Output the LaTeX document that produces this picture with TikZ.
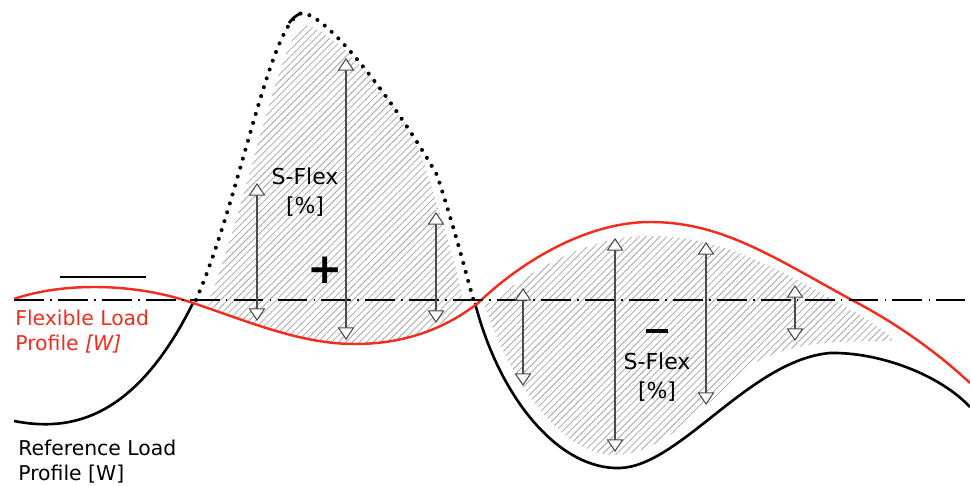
\documentclass[tikz,border=0pt]{standalone}
\usepackage{fontspec}
\setmainfont{DejaVu Sans}
\usetikzlibrary{arrows.meta,patterns.meta}
\definecolor{FlexRed}{RGB}{240,45,30}
\definecolor{HatchGray}{RGB}{165,165,165}
\definecolor{ArrowGray}{RGB}{75,75,75}
\tikzset{
  refline/.style={line width=1.5pt,draw=black},
  flexline/.style={line width=1.4pt,draw=FlexRed},
  dotline/.style={line width=2.3pt,line cap=round,dash pattern=on 0pt off 5.3pt},
  zeroline/.style={line width=0.9pt,dash pattern=on 17pt off 3.5pt on 1pt off 3.5pt},
  hatch/.style={pattern={Lines[angle=45,distance=2.8pt,line width=0.45pt]},pattern color=HatchGray},
  flexarrow/.style={{Triangle[fill=white,length=7.2pt,width=9.5pt]}-{Triangle[fill=white,length=7.2pt,width=9.5pt]},
    line width=0.6pt,draw=ArrowGray},
  sflex/.style={align=center,font=\fontsize{12.5}{16.5}\selectfont,inner sep=0pt},
  proflabel/.style={align=left,anchor=north west,font=\fontsize{11.6}{14}\selectfont,inner sep=0pt}
}

\begin{document}
\begin{tikzpicture}[x=0.02cm,y=-0.02cm]
  \useasboundingbox (0,0) rectangle (970,486);

  % hatched areas
  \fill[hatch] (207,305) .. controls (245,215) and (280,30) .. (305,25)
    .. controls (330,28) and (405,100) .. (428,175)
    .. controls (445,230) and (458,270) .. (464,306)
    .. controls (440,330) and (400,344) .. (355,344)
    .. controls (300,344) and (250,322) .. (207,305) -- cycle;
  \fill[hatch] (485,306) .. controls (535,268) and (590,235) .. (650,236)
    .. controls (720,236) and (770,265) .. (840,303)
    .. controls (865,318) and (885,330) .. (895,341)
    .. controls (850,341) and (800,340) .. (760,360)
    .. controls (720,385) and (670,455) .. (615,455)
    .. controls (560,455) and (510,380) .. (485,306) -- cycle;

  % profiles
  \draw[refline] (14,421) .. controls (70,432) and (135,420) .. (193,303);
  \draw[refline] (475,303) .. controls (500,400) and (560,470) .. (620,468)
    .. controls (680,466) and (750,360) .. (830,353)
    .. controls (880,352) and (940,375) .. (970,407);
  \draw[dotline] (196,300) .. controls (240,200) and (270,20) .. (302,13)
    .. controls (330,15) and (400,110) .. (437,175)
    .. controls (455,230) and (465,270) .. (474,302);
  \draw[line width=1.6pt] (289,23) to[bend left=12] (301,13);
  \draw[flexline] (14,299) .. controls (60,283) and (130,282) .. (190,302)
    .. controls (250,322) and (300,344) .. (355,344)
    .. controls (410,344) and (450,325) .. (478,303)
    .. controls (525,258) and (590,222) .. (650,222)
    .. controls (720,222) and (770,255) .. (850,299)
    .. controls (900,325) and (940,355) .. (970,383);

  \coordinate (zeroL) at (14,300);
  \coordinate (zeroR) at (965,300);
  \draw[zeroline] (zeroL) -- (zeroR);
  \coordinate (markL) at (60,277);
  \coordinate (markR) at (146,277);
  \draw[line width=0.7pt] (markL) -- (markR);

  % S-Flex arrows
  \foreach \i/\x/\ya/\yb in {1/257/183/321,2/346/58/340,3/436/212/323,4/523/288/386,
    5/615/238/452,6/706/242/405,7/795/285/341}{
    \coordinate (top\i) at (\x,\ya);
    \coordinate (bot\i) at (\x,\yb);
    \draw[flexarrow] (top\i) -- (bot\i);
  }

  \node[sflex] (flexpos) at (305,192) {S-Flex\\{[\%]}};
  \node[sflex] (flexneg) at (657,377) {S-Flex\\{[\%]}};
  \node[font=\fontsize{24}{24}\selectfont\bfseries,inner sep=0pt] (plus) at (325,270) {+};
  \node[inner sep=0pt] (minus) at (657,331) {\rule{13pt}{1.8pt}};

  \node[proflabel,text=FlexRed] (flexlab) at (15,310) {Flexible Load\\Profile \textit{[W]}};
  \node[proflabel] (reflab) at (18,440) {Reference Load\\Profile [W]};
\end{tikzpicture}
\end{document}
